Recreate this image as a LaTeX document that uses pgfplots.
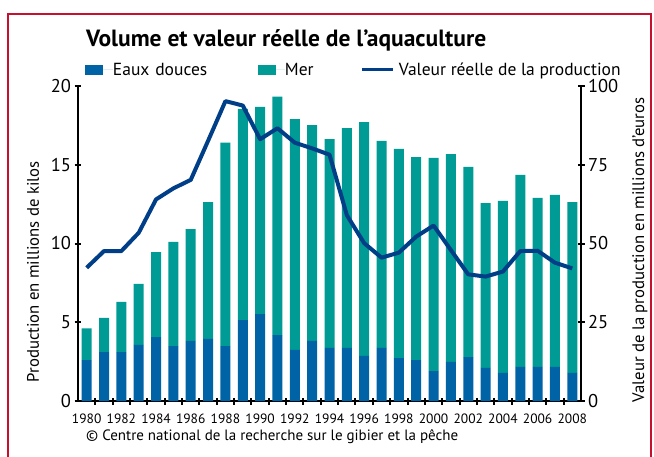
\documentclass[border=0pt]{standalone}
\usepackage{pgfplots}
\pgfplotsset{compat=1.18}
\usepackage{pgfplotstable}
\usepackage{fontspec}
\setmainfont{PT Sans}
\definecolor{blueC}{HTML}{0063A6}
\definecolor{tealC}{HTML}{009B94}
\definecolor{lineC}{HTML}{003F87}
\definecolor{redC}{HTML}{C8102E}

\pgfplotstableread{
year eau mer val
1980 2.60 2.01 42.3
1981 3.11 2.16 47.6
1982 3.11 3.18 47.6
1983 3.56 3.87 53.4
1984 4.06 5.40 64.0
1985 3.49 6.61 67.5
1986 3.81 7.11 70.2
1987 3.94 8.69 82.6
1988 3.49 12.91 95.2
1989 5.14 13.40 93.8
1990 5.52 13.15 83.1
1991 4.19 15.13 86.6
1992 3.24 14.66 82.0
1993 3.81 13.71 80.2
1994 3.37 13.26 78.2
1995 3.37 13.96 59.0
1996 2.86 14.85 50.1
1997 3.37 13.14 45.5
1998 2.73 13.27 47.1
1999 2.60 12.89 52.2
2000 1.90 13.53 55.7
2001 2.48 13.20 47.9
2002 2.79 12.07 40.2
2003 2.10 10.47 39.5
2004 1.78 10.92 41.1
2005 2.16 12.19 47.6
2006 2.16 10.73 47.7
2007 2.16 10.92 43.9
2008 1.78 10.85 42.1
}\data

\begin{document}
\begin{tikzpicture}
\useasboundingbox (0,0) rectangle (654pt,456pt);
\draw[redC, line width=2.5pt] (8pt,-5pt) -- (8pt,442pt) -- (651pt,442pt) -- (651pt,-5pt);
\begin{axis}[
  at={(78pt,55pt)}, anchor=south west,
  scale only axis, width=503pt, height=315pt,
  xmin=1979.5, xmax=2008.5, ymin=0, ymax=20,
  ybar stacked, bar width=10pt,
  axis x line*=bottom, axis y line*=left,
  axis line style={line width=2.4pt, black, -},
  xtick={1980,1982,...,2008},
  minor xtick={1980.5,1981.5,...,2007.5},
  ytick={0,5,10,15,20},
  tick style={line width=2pt, black},
  tick align=center,
  major tick length=7pt, minor tick length=7pt,
  major x tick style={draw=none},
  /pgf/number format/assume math mode=true,
  xticklabel style={font=\fontsize{13.5}{14}\selectfont, /pgf/number format/1000 sep={}, yshift=-6pt},
  yticklabel style={font=\fontsize{18.5}{18.5}\selectfont},
  ylabel={Production en millions de kilos},
  ylabel style={at={(axis description cs:-0.0895,0.41)}, anchor=center, font=\fontsize{16.7}{17}\selectfont},
  title={Volume et valeur réelle de l’aquaculture},
  every axis title shift=0pt,
  title style={at={(axis description cs:0.0159,1.146)}, anchor=west, inner sep=0pt, font=\bfseries\fontsize{23.5}{24}\selectfont},
  legend columns=3,
  legend cell align=left,
  legend style={at={(axis description cs:0.0139,1.0508)}, anchor=west, draw=none, fill=none,
    inner sep=0pt, outer sep=0pt, column sep=0pt,
    nodes={inner sep=0pt, font=\fontsize{17.5}{18}\selectfont},
    /tikz/column 2/.style={text width=145pt},
    /tikz/column 4/.style={text width=76pt},
    /tikz/column 5/.style={column sep=4pt}},
]
\addplot[fill=blueC, draw=none,
  legend image code/.code={\fill[blueC] (0pt,-5pt) rectangle (18pt,5pt); \path (0pt,0pt) -- (28pt,0pt);}]
  table[x=year, y=eau]{\data};
\addlegendentry{Eaux douces}
\addplot[fill=tealC, draw=none,
  legend image code/.code={\fill[tealC] (0pt,-5pt) rectangle (18pt,5pt); \path (0pt,0pt) -- (27pt,0pt);}]
  table[x=year, y=mer]{\data};
\addlegendentry{Mer}
\addlegendimage{legend image code/.code={\draw[lineC, line width=3pt] (0pt,0pt) -- (31pt,0pt);}}
\addlegendentry{Valeur réelle de la production}
\end{axis}
\begin{axis}[
  at={(78pt,55pt)}, anchor=south west,
  scale only axis, width=503pt, height=315pt,
  xmin=1979.5, xmax=2008.5, ymin=0, ymax=100,
  axis x line=none, axis y line*=right,
  axis line style={line width=2.4pt, black, -},
  ytick={0,25,50,75,100},
  tick style={line width=2pt, black},
  tick align=center,
  major tick length=7pt,
  /pgf/number format/assume math mode=true,
  yticklabel style={font=\fontsize{18.5}{18.5}\selectfont},
  ylabel={Valeur de la production en millions d'euros},
  ylabel style={at={(axis description cs:1.117,0.48)}, anchor=center, font=\fontsize{16.7}{17}\selectfont},
]
\addplot[lineC, line width=4pt, line join=round, mark=none] table[x=year, y=val]{\data};
\end{axis}
\node[anchor=west, inner sep=0pt, font=\fontsize{15}{15}\selectfont] at (86pt,19pt) {© Centre national de la recherche sur le gibier et la pêche};
\end{tikzpicture}
\end{document}
